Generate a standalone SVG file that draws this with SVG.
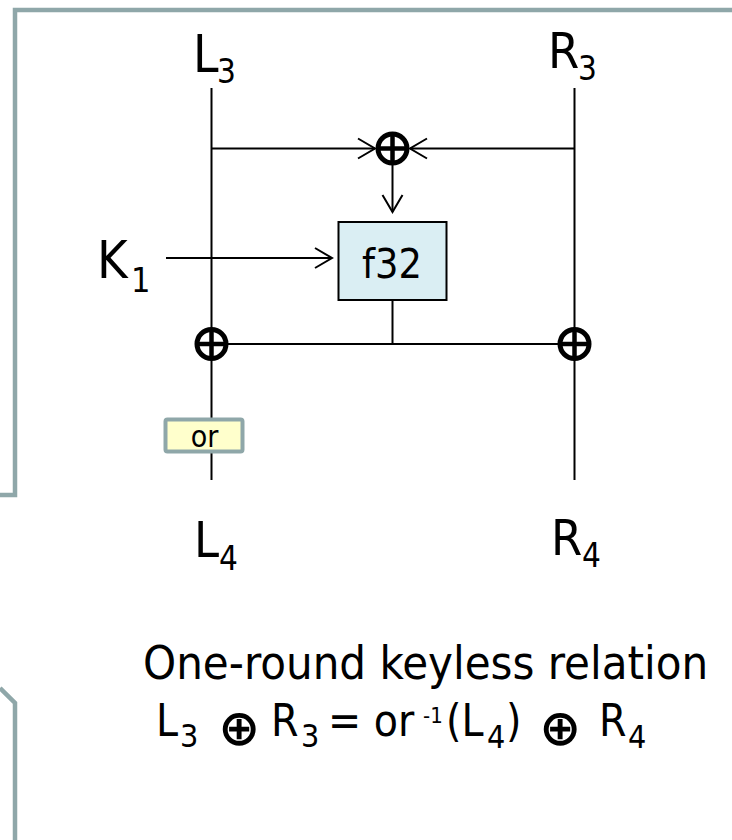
<svg xmlns="http://www.w3.org/2000/svg" width="732" height="840" viewBox="0 0 732 840">
  <style>
    .t { font-family: "DejaVu Sans Condensed", "Liberation Sans", sans-serif; fill: #000; }
    .frame { fill: none; stroke: #8FA7A9; stroke-width: 4.5; }
    .wire { fill: none; stroke: #000; stroke-width: 2; }
    .xor circle { fill: #fff; stroke: #000; stroke-width: 5; }
    .xor line { stroke: #000; stroke-width: 4.5; }
    .op { font-family: "DejaVu Sans", sans-serif; font-weight: bold; font-size: 50px; }
  </style>
  <defs>
    <marker id="arr" markerUnits="userSpaceOnUse" markerWidth="20" markerHeight="22" refX="17" refY="10" orient="auto" overflow="visible">
      <path d="M0,0 L17,10 L0,20" fill="none" stroke="#000" stroke-width="2"/>
    </marker>
  </defs>
  <rect width="732" height="840" fill="#fff"/>

  <g id="frames">
    <path class="frame" d="M732 10 H15 V495 H0"/>
    <path class="frame" d="M0 688 L15 703 V840"/>
  </g>

  <g id="connectors">
    <path class="wire" d="M211.5 88 V480"/>
    <path class="wire" d="M574.5 88 V480"/>
    <path class="wire" d="M211.5 148.5 H375" marker-end="url(#arr)"/>
    <path class="wire" d="M574.5 148.5 H410" marker-end="url(#arr)"/>
    <path class="wire" d="M392.5 165 V212" marker-end="url(#arr)"/>
    <path class="wire" d="M166 258 H332" marker-end="url(#arr)"/>
    <path class="wire" d="M392.5 300 V344"/>
    <path class="wire" d="M211.5 344 H574.5"/>
  </g>

  <g id="xor-top" class="xor">
    <circle cx="392.5" cy="148.5" r="14.5"/>
    <line x1="378" y1="148.5" x2="407" y2="148.5"/>
    <line x1="392.5" y1="134" x2="392.5" y2="163"/>
  </g>
  <g id="xor-left" class="xor">
    <circle cx="211.5" cy="344" r="14.5"/>
    <line x1="197" y1="344" x2="226" y2="344"/>
    <line x1="211.5" y1="329.5" x2="211.5" y2="358.5"/>
  </g>
  <g id="xor-right" class="xor">
    <circle cx="574.5" cy="344" r="14.5"/>
    <line x1="560" y1="344" x2="589" y2="344"/>
    <line x1="574.5" y1="329.5" x2="574.5" y2="358.5"/>
  </g>

  <g id="f32">
    <rect x="338.5" y="222" width="108" height="78" fill="#DAEEF3" stroke="#000" stroke-width="2"/>
    <text class="t" x="392" y="278" font-size="41" text-anchor="middle">f32</text>
  </g>

  <g id="or-box">
    <rect x="165.5" y="419.5" width="77" height="32" rx="2" fill="#FFFFCC" stroke="#8FA7A9" stroke-width="4"/>
    <text class="t" x="204.5" y="446.5" font-size="30" text-anchor="middle">or</text>
  </g>

  <g id="label-L3">
    <text class="t" x="193" y="72" font-size="51">L<tspan x="217" y="83" font-size="33">3</tspan></text>
  </g>
  <g id="label-R3">
    <text class="t" x="548" y="68" font-size="50">R<tspan x="578" y="80" font-size="33">3</tspan></text>
  </g>
  <g id="label-K1">
    <text class="t" x="97" y="278" font-size="52">K<tspan x="131" y="292" font-size="34">1</tspan></text>
  </g>
  <g id="label-L4">
    <text class="t" x="194" y="557" font-size="50">L<tspan x="219" y="570" font-size="33">4</tspan></text>
  </g>
  <g id="label-R4">
    <text class="t" x="551" y="555" font-size="50">R<tspan x="582" y="567" font-size="33">4</tspan></text>
  </g>

  <g id="caption">
    <text class="t" x="143" y="679" font-size="46.8">One-round keyless relation</text>
    <text class="t" font-size="44"><tspan x="156" y="736">L</tspan><tspan x="180" y="747" font-size="32">3</tspan><tspan class="op" x="218" y="745">⊕</tspan><tspan x="271" y="736">R</tspan><tspan x="301" y="747" font-size="32">3</tspan><tspan x="328" y="736">= or</tspan><tspan x="423" y="723" font-size="22">-1</tspan><tspan x="446" y="736">(L</tspan><tspan x="487" y="748" font-size="32">4</tspan><tspan x="506" y="736">)</tspan><tspan class="op" x="539" y="745">⊕</tspan><tspan x="599" y="736">R</tspan><tspan x="628" y="748" font-size="32">4</tspan></text>
  </g>
</svg>
